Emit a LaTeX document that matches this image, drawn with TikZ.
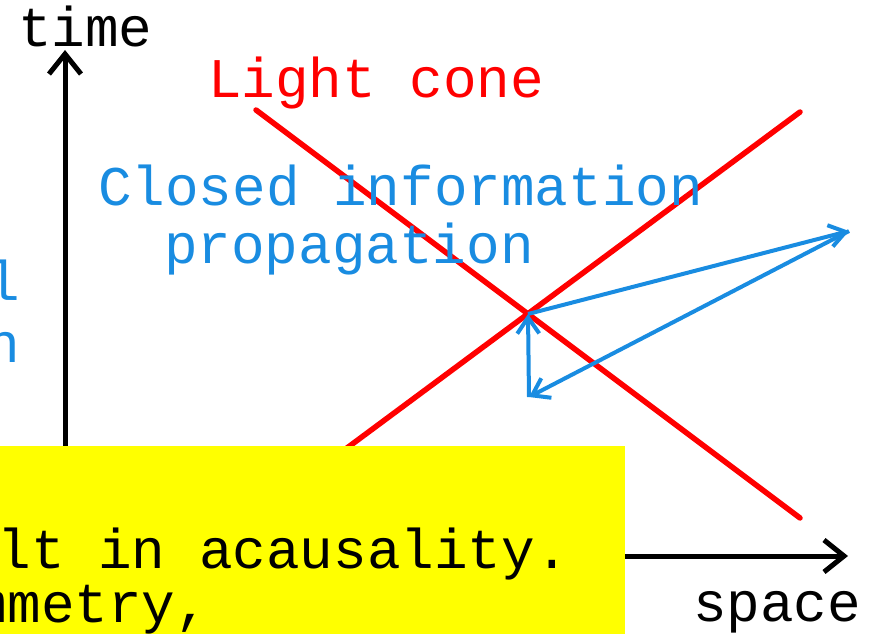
\documentclass[tikz,border=0pt]{standalone}
\usepackage{fontspec}
\usetikzlibrary{arrows.meta}
\newfontfamily\gfont{Liberation Mono}
\definecolor{cred}{RGB}{255,0,0}
\definecolor{cblue}{RGB}{25,140,225}
\definecolor{cyel}{RGB}{255,255,0}
\begin{document}
\begin{tikzpicture}[x=1pt,y=-1pt,
  lbl/.style={inner sep=0pt, outer sep=0pt, anchor=base west, font=\gfont\fontsize{56}{60}\selectfont},
  axis/.style={line width=5pt, -{Straight Barb[length=20pt,width=32pt]}},
  cone/.style={cred, line width=5.5pt, line cap=round},
  info/.style={cblue, line width=4pt, -{Straight Barb[length=16pt,width=22pt]}}]
\useasboundingbox (0,0) rectangle (873,634);
\clip (0,0) rectangle (873,634);
% axes
\coordinate (tb) at (65,480);
\coordinate (tt) at (65,50);
\coordinate (sb) at (600,556);
\coordinate (st) at (848,556);
\draw[axis] (tb) -- (tt);
\draw[axis] (sb) -- (st);
% light cone
\coordinate (c1a) at (256,110);
\coordinate (c1b) at (800,518);
\coordinate (c2a) at (200,557);
\coordinate (c2b) at (800,112);
\draw[cone] (c1a) -- (c1b);
\draw[cone] (c2a) -- (c2b);
% information propagation
\coordinate (O) at (528,314);
\coordinate (P) at (849,231);
\coordinate (Q) at (529,397);
\draw[info] (O) -- (P);
\draw[info] (P) -- (Q);
\draw[info] (Q) -- (O);
% labels
\node[lbl] (time) at (18,47) {time};
\node[lbl, text=cred] (lc) at (208,97) {Light cone};
\node[lbl, text=cblue] (cl1) at (98,205) {Closed information};
\node[lbl, text=cblue] (cl2) at (164,263) {propagation};
\node[lbl, text=cblue] (ll) at (-13,300) {l};
\node[lbl, text=cblue] (ln) at (-13,362) {n};
\node[lbl] (space) at (693,621) {space};
% yellow box
\fill[cyel] (-2,446) rectangle (625,640);
\node[lbl] (y1) at (-36,568) {ult in acausality.};
\node[lbl] (y2) at (-26,622) {mmetry,};
\end{tikzpicture}
\end{document}
